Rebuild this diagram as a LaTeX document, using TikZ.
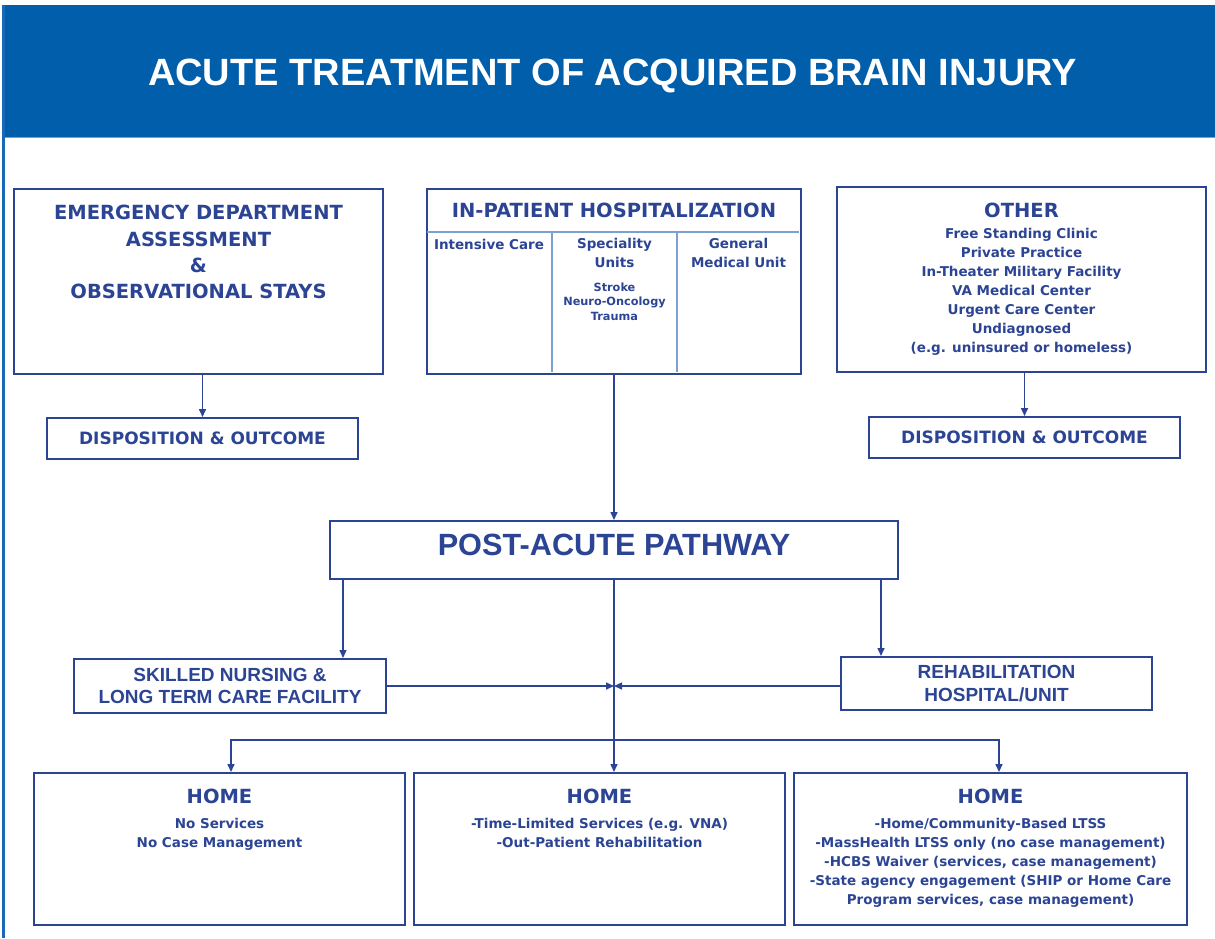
\documentclass[tikz,border=0pt]{standalone}
\usepackage{fontspec}
\setmainfont{DejaVu Sans}
\newfontfamily\arialfont{Liberation Sans}
\usetikzlibrary{arrows.meta,positioning}
\definecolor{abiblue}{RGB}{44,68,148}
\definecolor{bandblue}{RGB}{0,94,170}
\definecolor{ruleblue}{RGB}{125,160,210}
\definecolor{edgeblue}{RGB}{25,105,185}
\newcommand{\abititle}{\arialfont\fontsize{38}{44}\selectfont\bfseries}
\newcommand{\abibig}{\arialfont\fontsize{30.7}{36}\selectfont\bfseries}
\newcommand{\abiarial}{\arialfont\fontsize{19}{22.6}\selectfont\bfseries}
\newcommand{\abihead}{\fontsize{19.5}{26.4}\selectfont\bfseries}
\newcommand{\abisub}{\fontsize{17}{22}\selectfont\bfseries}
\newcommand{\abilist}{\fontsize{13.5}{19}\selectfont\bfseries}
\newcommand{\abismall}{\fontsize{11.3}{14.7}\selectfont\bfseries}
\tikzset{
  box/.style={draw=abiblue, line width=2pt, fill=white, inner sep=0pt,
    text=abiblue, align=center, anchor=north west},
  txt/.style={text=abiblue, align=center, inner sep=0pt},
  conn/.style={draw=abiblue, line width=1.5pt, ->},
  divider/.style={draw=ruleblue, line width=1.5pt},
  >={Triangle[length=8pt,width=7pt]}
}

\begin{document}
\begin{tikzpicture}[x=1pt,y=-1pt]
\useasboundingbox (0,0) rectangle (1215,938);
\fill[bandblue] (2,5) rectangle (1215,137);
\draw[ruleblue, line width=1pt] (2,137.5) -- (1215,137.5);
\draw[edgeblue, line width=2.5pt] (3.5,5) -- (3.5,938);
\node[txt, text=white, font=\abititle, anchor=base] (title) at (612.5,85) {ACUTE TREATMENT OF ACQUIRED BRAIN INJURY};

% acute settings
\node[box, minimum width=369pt, minimum height=185pt] (ed) at (13,188) {};
\node[txt, font=\abihead, anchor=north] (edtext) at ([yshift=-17pt]ed.north) {EMERGENCY DEPARTMENT\\ASSESSMENT\\\&\\OBSERVATIONAL STAYS};
\node[box, font=\abisub, minimum width=311pt, minimum height=41pt] (disp1) at (46,417) {DISPOSITION \& OUTCOME};

\node[box, minimum width=374pt, minimum height=185pt] (ip) at (426,188) {};
\draw[divider] (427,232) -- (799,232) (552,232) -- (552,372) (677,232) -- (677,372);
\node[txt, font=\abihead, anchor=north] (iptext) at ([yshift=-15pt]ip.north) {IN-PATIENT HOSPITALIZATION};
\node[txt, font=\abilist, anchor=north] (icu) at (489,239) {Intensive Care};
\node[txt, font=\abilist, anchor=north] (spec) at (614.5,238.5) {Speciality\\Units};
\node[txt, font=\abismall, anchor=north] (speclist) at (614.5,282.5) {Stroke\\Neuro-Oncology\\Trauma};
\node[txt, font=\abilist, anchor=north] (gmu) at (738.5,238.5) {General\\Medical Unit};

\node[box, minimum width=369pt, minimum height=185pt] (other) at (836,186) {};
\node[txt, font=\abihead, anchor=north] (othertext) at ([yshift=-17pt]other.north) {OTHER};
\node[txt, font=\abilist, anchor=north] (otherlist) at ([yshift=-42.5pt]other.north) {Free Standing Clinic\\Private Practice\\In-Theater Military Facility\\VA Medical Center\\Urgent Care Center\\Undiagnosed\\(e.g. uninsured or homeless)};
\node[box, font=\abisub, minimum width=311pt, minimum height=41pt] (disp2) at (868,416) {DISPOSITION \& OUTCOME};

% post-acute
\node[box, minimum width=568pt, minimum height=58pt] (pa) at (329,520) {};
\node[txt, font=\abibig, anchor=base] (patext) at ([yshift=-35pt]pa.north) {POST-ACUTE PATHWAY};
\node[box, font=\abiarial, minimum width=312pt, minimum height=54pt] (sn) at (73,658) {SKILLED NURSING \&\\LONG TERM CARE FACILITY};
\node[box, font=\abiarial, minimum width=311pt, minimum height=53pt] (rehab) at (840,656) {REHABILITATION\\HOSPITAL/UNIT};

\node[box, minimum width=371pt, minimum height=152pt] (home1) at (33,772) {};
\node[txt, font=\abihead, anchor=base] at ([yshift=-31pt]home1.north) {HOME};
\node[txt, font=\abilist, anchor=north] at ([yshift=-46pt]home1.north) {No Services\\No Case Management};
\node[box, minimum width=371pt, minimum height=152pt] (home2) at (413,772) {};
\node[txt, font=\abihead, anchor=base] at ([yshift=-31pt]home2.north) {HOME};
\node[txt, font=\abilist, anchor=north] at ([yshift=-46pt]home2.north) {-Time-Limited Services (e.g. VNA)\\-Out-Patient Rehabilitation};
\node[box, minimum width=393pt, minimum height=152pt] (home3) at (793,772) {};
\node[txt, font=\abihead, anchor=base] at ([yshift=-31pt]home3.north) {HOME};
\node[txt, font=\abilist, anchor=north] at ([yshift=-46pt]home3.north) {-Home/Community-Based LTSS\\-MassHealth LTSS only (no case management)\\-HCBS Waiver (services, case management)\\-State agency engagement (SHIP or Home Care\\Program services, case management)};

\coordinate (paL) at ([xshift=14pt]pa.south west);
\coordinate (paR) at ([xshift=-18pt]pa.south east);
\coordinate (mid) at (pa.south |- sn.east);
\coordinate (fork) at ([yshift=-160pt]pa.south);

\draw[conn] (ed.south -| disp1.north) -- (disp1.north);
\draw[conn] (other.south -| disp2.north) -- (disp2.north);
\draw[conn] (ip.south) -- (pa.north);
\draw[conn] (paL) -- (paL |- sn.north);
\draw[conn] (paR) -- (paR |- rehab.north);
\draw[conn] (pa.south) -- (pa.south |- home2.north);
\draw[conn] (sn.east) -- (mid);
\draw[conn] (rehab.west |- sn.east) -- (mid);
\draw[conn] (fork) -| ([xshift=11.5pt]home1.north);
\draw[conn] (fork) -| ([xshift=8.5pt]home3.north);
\end{tikzpicture}
\end{document}
